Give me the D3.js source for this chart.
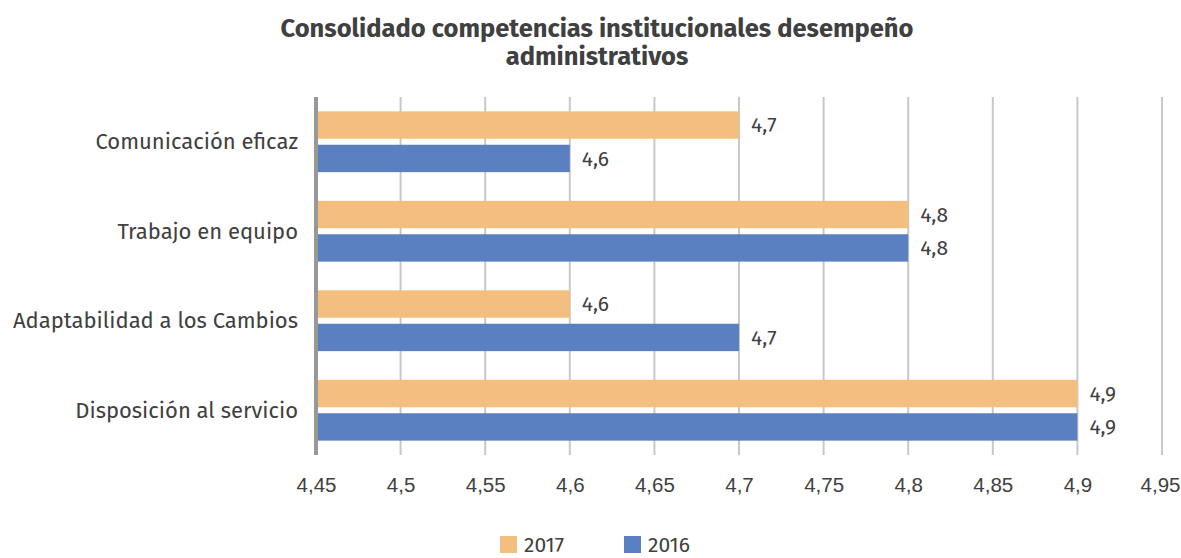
<!DOCTYPE html>
<html>
<head>
<meta charset="utf-8">
<script src="https://cdn.jsdelivr.net/npm/d3@7"></script>
<style>
	body { margin: 0; background: #fff; }
	svg { display: block; font-family: "Fira Sans", "Open Sans", "Noto Sans", sans-serif; }
</style>
</head>
<body>
<div id="chart"></div>
<script>
var categories = ['Comunicación eficaz', 'Trabajo en equipo', 'Adaptabilidad a los Cambios', 'Disposición al servicio'];
var seriesNames = ['2017', '2016'];
var values2017 = [4.7, 4.8, 4.6, 4.9];
var values2016 = [4.6, 4.8, 4.7, 4.9];
var tickValues = [4.45, 4.5, 4.55, 4.6, 4.65, 4.7, 4.75, 4.8, 4.85, 4.9, 4.95];

var colors = {
	'2017': '#F4BE7E',
	'2016': '#5A80C2'
};

var width = 1181;
var height = 558;
var margin = { top: 97, right: 19, bottom: 100, left: 316 };
var textColor = '#404040';

function fmt(v) {
	return String(v).replace('.', ',');
}

var svg = d3.select('#chart')
	.append('svg')
	.attr('width', width)
	.attr('height', height);

// title
var title = svg.append('text')
	.attr('x', 597)
	.attr('y', 37)
	.attr('text-anchor', 'middle')
	.attr('fill', textColor)
	.style('font-size', '25.5px')
	.style('font-weight', 'bold');

title.append('tspan').attr('x', 597).attr('dy', 0).text('Consolidado competencias institucionales desempeño');
title.append('tspan').attr('x', 597).attr('dy', 28).text('administrativos');

var xScale = d3.scaleLinear()
	.domain([4.45, 4.95])
	.range([margin.left, width - margin.right]);

var yScale = d3.scaleBand()
	.domain(categories)
	.range([margin.top, height - margin.bottom - 3])
	.paddingInner(0)
	.paddingOuter(0);

var ySub = d3.scaleBand()
	.domain(seriesNames)
	.range([0, yScale.bandwidth()])
	.paddingInner(0.18)
	.paddingOuter(0.43);

// gridlines
svg.append('g')
	.selectAll('line')
	.data(tickValues.slice(1))
	.enter()
	.append('line')
	.attr('x1', function(d) { return xScale(d); })
	.attr('x2', function(d) { return xScale(d); })
	.attr('y1', margin.top)
	.attr('y2', yScale.range()[1])
	.attr('stroke', '#C8C8C8')
	.attr('stroke-width', 2);

// x axis labels
var xAxis = svg.append('g')
	.attr('transform', 'translate(0,' + yScale.range()[1] + ')')
	.call(d3.axisBottom(xScale).tickValues(tickValues).tickSize(0).tickPadding(22).tickFormat(fmt));

xAxis.select('.domain').remove();
xAxis.selectAll('text')
	.attr('fill', textColor)
	.style('font-size', '20.5px')
	.style('font-family', 'inherit');

// keep the last tick label inside the picture
xAxis.selectAll('.tick:last-of-type text')
	.attr('text-anchor', 'end')
	.attr('x', 18);

var series = [
	{ name: '2017', values: values2017 },
	{ name: '2016', values: values2016 }
];

var groups = svg.append('g')
	.selectAll('g')
	.data(series)
	.enter()
	.append('g');

groups.selectAll('rect')
	.data(function(s) {
		return s.values.map(function(v, i) { return { name: s.name, value: v, cat: categories[i] }; });
	})
	.enter()
	.append('rect')
	.attr('x', xScale(4.45))
	.attr('y', function(d) { return yScale(d.cat) + ySub(d.name); })
	.attr('width', function(d) { return xScale(d.value) - xScale(4.45); })
	.attr('height', ySub.bandwidth())
	.attr('fill', function(d) { return colors[d.name]; });

groups.selectAll('text')
	.data(function(s) {
		return s.values.map(function(v, i) { return { name: s.name, value: v, cat: categories[i] }; });
	})
	.enter()
	.append('text')
	.attr('x', function(d) { return xScale(d.value) + 12; })
	.attr('y', function(d) { return yScale(d.cat) + ySub(d.name) + ySub.bandwidth() / 2; })
	.attr('dy', '0.35em')
	.attr('fill', textColor)
	.style('font-size', '21px')
	.text(function(d) { return fmt(d.value); });

// y axis line + labels
svg.append('line')
	.attr('x1', xScale(4.45))
	.attr('x2', xScale(4.45))
	.attr('y1', margin.top)
	.attr('y2', yScale.range()[1])
	.attr('stroke', '#989898')
	.attr('stroke-width', 4);

svg.append('g')
	.selectAll('text')
	.data(categories)
	.enter()
	.append('text')
	.attr('x', 298)
	.attr('y', function(d) { return yScale(d) + yScale.bandwidth() / 2; })
	.attr('dy', '0.35em')
	.attr('text-anchor', 'end')
	.attr('fill', textColor)
	.style('font-size', '22px')
	.text(function(d) { return d; });

// legend
var legendX = [500, 624];
var legend = svg.append('g')
	.selectAll('g')
	.data(seriesNames)
	.enter()
	.append('g')
	.attr('transform', function(d, i) { return 'translate(' + legendX[i] + ',536)'; });

legend.append('rect')
	.attr('width', 17)
	.attr('height', 17)
	.attr('fill', function(d) { return colors[d]; });

legend.append('text')
	.attr('x', 24)
	.attr('y', 16)
	.attr('fill', textColor)
	.style('font-size', '21px')
	.text(function(d) { return d; });
</script>
</body>
</html>
